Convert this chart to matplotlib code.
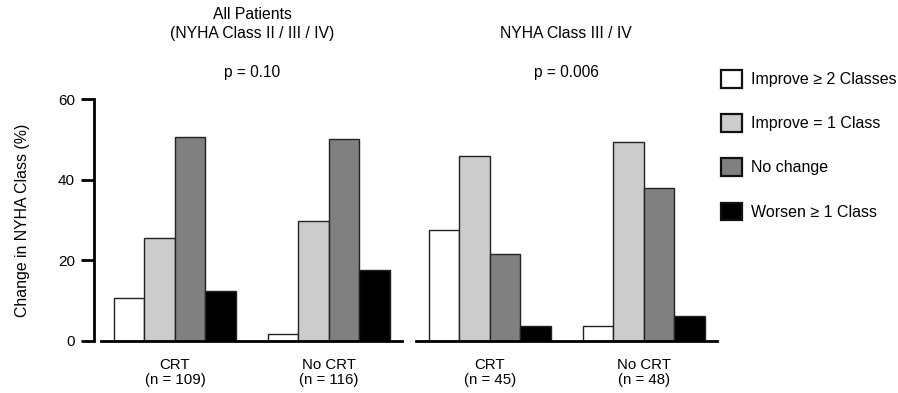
import matplotlib
matplotlib.use("Agg")
import matplotlib.pyplot as plt
import numpy as np
from matplotlib.patches import Patch

plt.rcParams['font.family'] = ['Liberation Sans', 'DejaVu Sans']

categories = ["Improve \u2265 2 Classes", "Improve = 1 Class", "No change", "Worsen \u2265 1 Class"]
colors = ["#ffffff", "#cccccc", "#808080", "#000000"]

groups_left = ["CRT\n(n = 109)", "No CRT\n(n = 116)"]
values_left = {
    "CRT": [10.7, 25.5, 50.6, 12.4],
    "No CRT": [1.7, 29.8, 50.1, 17.6],
}
groups_right = ["CRT\n(n = 45)", "No CRT\n(n = 48)"]
values_right = {
    "CRT": [27.5, 45.9, 21.6, 3.7],
    "No CRT": [3.7, 49.3, 37.9, 6.2],
}
title_left = "All Patients\n(NYHA Class II / III / IV)"
title_right = "NYHA Class III / IV"
p_left = "p = 0.10"
p_right = "p = 0.006"

W, H = 898, 393
fig = plt.figure(figsize=(W / 100, H / 100), dpi=100)

def px_axes(x0, x1, ytop, ybot):
    return fig.add_axes([x0 / W, (H - ybot) / H, (x1 - x0) / W, (ybot - ytop) / H])

axL = px_axes(101, 402, 99, 341)
axR = px_axes(416, 717, 99, 341)

bw = 0.198
def draw(ax, groups, vals):
    keys = list(vals.keys())
    x = np.arange(len(keys))
    for i in range(len(categories)):
        heights = [vals[k][i] for k in keys]
        ax.bar(x + (i - 1.5) * bw, heights, width=bw, color=colors[i],
               edgecolor="#222222", linewidth=1.0, zorder=2)
    ax.set_xlim(-0.48, 1.474)
    ax.set_ylim(0, 60)
    ax.set_xticks(x)
    ax.set_xticklabels(groups, fontsize=10.8, linespacing=1.1)
    ax.tick_params(axis='x', length=0, pad=12)
    for s in ["top", "right"]:
        ax.spines[s].set_visible(False)
    ax.spines["bottom"].set_linewidth(2)
    ax.set_facecolor("none")

draw(axL, groups_left, values_left)
draw(axR, groups_right, values_right)

axL.spines["left"].set_linewidth(2)
axL.spines["left"].set_position(("outward", 5))
axL.set_yticks([0, 20, 40, 60])
axL.tick_params(axis='y', length=9.5, width=2, labelsize=11, pad=4.3)
axL.set_ylabel("Change in NYHA Class (%)", fontsize=11.4, labelpad=20)

axR.spines["left"].set_visible(False)
axR.set_yticks([])

fig.text(252 / W, 1 - 24 / H, title_left, ha="center", va="center", fontsize=11.3, linespacing=1.35)
fig.text(566 / W, 1 - 34 / H, title_right, ha="center", va="center", fontsize=11.3)
fig.text(252 / W, 1 - 72 / H, p_left, ha="center", va="center", fontsize=11.2)
fig.text(566 / W, 1 - 72 / H, p_right, ha="center", va="center", fontsize=11.2)

handles = [Patch(facecolor=c, edgecolor="#111111", linewidth=1.6) for c in colors]
fig.legend(handles, categories, loc="upper left", bbox_to_anchor=(721 / W, 1 - 70 / H),
           frameon=False, fontsize=11.5, handlelength=1.31, handleheight=1.31,
           labelspacing=1.67, handletextpad=0.56, borderaxespad=0, borderpad=0)

fig.savefig("out.png", dpi=100)
